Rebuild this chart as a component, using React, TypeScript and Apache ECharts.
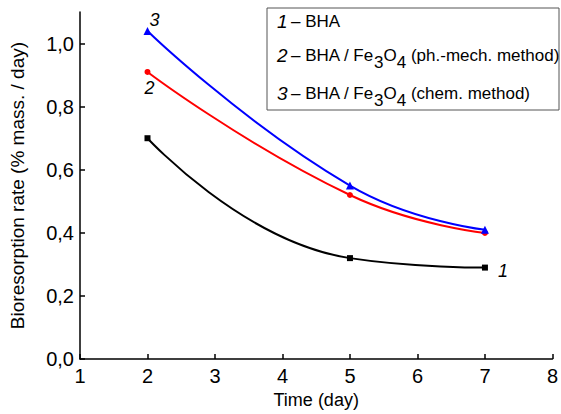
import React, { useEffect, useRef } from "react";
import * as echarts from "echarts";

const days = [2, 5, 7];
const bha = [0.70, 0.32, 0.29];
const bhaPhMech = [0.91, 0.52, 0.40];
const bhaChem = [1.04, 0.55, 0.41];
const yTicks = [0, 0.2, 0.4, 0.6, 0.8, 1.0];
const xTicks = [1, 2, 3, 4, 5, 6, 7, 8];
const FONT = "'Liberation Sans', Arial, sans-serif";

function makeData(vals: number[], labelIdx: number, label: string, pos: number[]) {
  return vals.map((v, i) => {
    const item: any = { value: [days[i], v] };
    if (i === labelIdx) {
      item.label = {
        show: true,
        formatter: label,
        position: pos,
        fontStyle: "italic",
        fontSize: 18,
        color: "#000",
        fontFamily: FONT,
      };
    }
    return item;
  });
}

export default function App() {
  const ref = useRef<HTMLDivElement>(null);
  useEffect(() => {
    const chart = echarts.init(ref.current!, null, { renderer: "svg" });
    const rich = {
      n: { fontStyle: "italic", fontSize: 19, fontFamily: FONT, color: "#000" },
      t: { fontSize: 17, fontFamily: FONT, color: "#000" },
      s: { fontSize: 17, fontFamily: FONT, color: "#000", padding: [14, 0, 0, 0] },
    };
    chart.setOption({
      animation: false,
      grid: { left: 78, right: 8, top: 12, bottom: 52 },
      xAxis: {
        type: "value",
        min: 1,
        max: 8,
        interval: 1,
        name: "Time (day)",
        nameLocation: "middle",
        nameGap: 31,
        nameTextStyle: { fontSize: 18, fontFamily: FONT, color: "#000" },
        axisLine: { lineStyle: { color: "#000", width: 1.5 } },
        axisTick: { inside: true, length: 5, lineStyle: { color: "#000", width: 1.5 }, customValues: xTicks },
        axisLabel: { fontSize: 20, fontFamily: FONT, color: "#000", margin: 7, customValues: xTicks },
        splitLine: { show: false },
      },
      yAxis: {
        type: "value",
        min: 0,
        max: 1.1,
        interval: 0.2,
        name: "Bioresorption rate (% mass. / day)",
        nameLocation: "middle",
        nameGap: 53,
        nameTextStyle: { fontSize: 19, fontFamily: FONT, color: "#000" },
        axisLine: { show: true, lineStyle: { color: "#000", width: 1.5 } },
        axisTick: { show: true, inside: true, length: 5, lineStyle: { color: "#000", width: 1.5 }, customValues: yTicks },
        axisLabel: {
          fontSize: 20,
          fontFamily: FONT,
          color: "#000",
          margin: 6,
          customValues: yTicks,
          formatter: (v: number) => v.toFixed(1).replace(".", ","),
        },
        splitLine: { show: false },
      },
      series: [
        {
          type: "line",
          smooth: 0.5,
          data: makeData(bha, 2, "1", [16, -3]),
          symbol: "rect",
          symbolSize: 6,
          lineStyle: { color: "#000", width: 2 },
          itemStyle: { color: "#000" },
        },
        {
          type: "line",
          smooth: 0.5,
          data: makeData(bhaPhMech, 0, "2", [0, 10]),
          symbol: "circle",
          symbolSize: 6,
          lineStyle: { color: "#ff0000", width: 2 },
          itemStyle: { color: "#ff0000" },
        },
        {
          type: "line",
          smooth: 0.5,
          data: makeData(bhaChem, 0, "3", [6, -16]),
          symbol: "triangle",
          symbolSize: 8,
          lineStyle: { color: "#0000ff", width: 2 },
          itemStyle: { color: "#0000ff" },
        },
      ],
      graphic: [
        {
          type: "rect",
          shape: { x: 267, y: 8, width: 292, height: 102 },
          style: { fill: "#fff", stroke: "#555", lineWidth: 1 },
          z: 10,
        },
        {
          type: "text",
          x: 277,
          y: 21,
          z: 11,
          style: { text: "{n|1}{t|\u2009– BHA}", rich, verticalAlign: "middle" },
        },
        {
          type: "text",
          x: 277,
          y: 55,
          z: 11,
          style: {
            text: "{n|2}{t|\u2009– BHA / Fe}{s|3}{t|O}{s|4}{t| (ph.-mech. method)}",
            rich,
            verticalAlign: "middle",
          },
        },
        {
          type: "text",
          x: 277,
          y: 93,
          z: 11,
          style: {
            text: "{n|3}{t|\u2009– BHA / Fe}{s|3}{t|O}{s|4}{t| (chem. method)}",
            rich,
            verticalAlign: "middle",
          },
        },
      ],
    });
    return () => chart.dispose();
  }, []);
  return <div ref={ref} style={{ width: 561, height: 414, position: "absolute", left: 0, top: 0 }} />;
}
